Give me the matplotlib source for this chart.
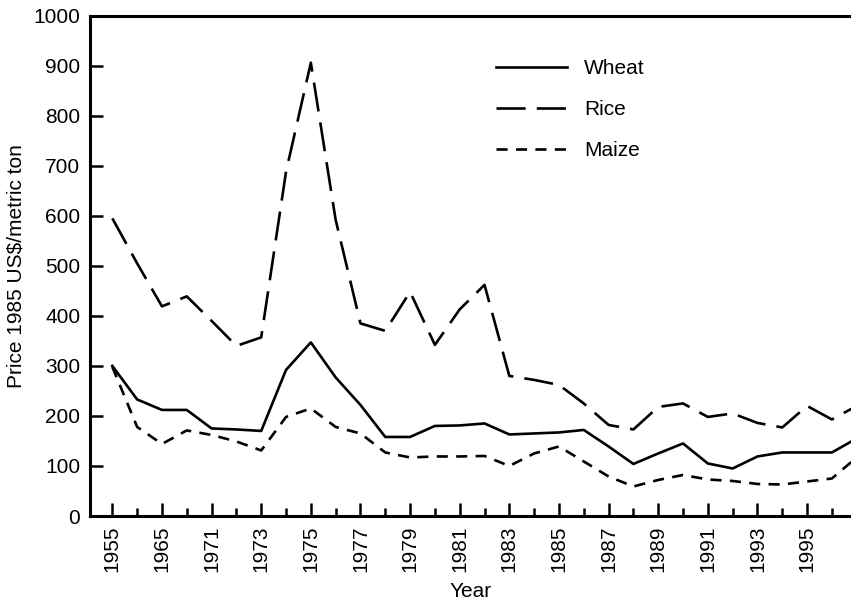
import matplotlib
matplotlib.use("Agg")
import matplotlib.pyplot as plt
from matplotlib.ticker import FixedLocator

plt.rcParams['font.family'] = ['Liberation Sans', 'DejaVu Sans']
plt.rcParams['lines.scale_dashes'] = False

years = ["1955", "1960", "1965", "1970", "1971", "1972", "1973", "1974", "1975",
         "1976", "1977", "1978", "1979", "1980", "1981", "1982", "1983", "1984",
         "1985", "1986", "1987", "1988", "1989", "1990", "1991", "1992", "1993",
         "1994", "1995", "1996", "1997"]
tick_labels = ["1955", "1965", "1971", "1973", "1975", "1977", "1979", "1981",
               "1983", "1985", "1987", "1989", "1991", "1993", "1995"]

wheat = [300, 233, 212, 212, 175, 173, 170, 292, 347, 277, 222, 158, 158, 180,
         181, 185, 163, 165, 167, 172, 139, 104, 125, 145, 105, 95, 119, 127,
         127, 127, 155]
rice = [595, 505, 419, 439, 390, 340, 357, 688, 906, 592, 385, 370, 448, 342,
        413, 462, 280, 272, 262, 225, 182, 173, 218, 225, 198, 205, 186, 177,
        220, 193, 220]
maize = [298, 178, 144, 171, 162, 149, 131, 198, 215, 178, 165, 127, 117, 119,
         119, 120, 100, 125, 139, 109, 79, 59, 72, 82, 73, 70, 64, 63, 69, 75,
         117]

fig = plt.figure(figsize=(8.51, 6.02), dpi=100)
ax = fig.add_axes([90/851, 1 - 516/602, 1 - 90/851, (516 - 15.7)/602])

x = list(range(len(years)))
lw = 1.9
ax.plot(x, wheat, color='black', lw=lw, linestyle='-', label='Wheat')
ax.plot(x, rice, color='black', lw=lw, linestyle=(0, (21, 8)), label='Rice')
ax.plot(x, maize, color='black', lw=lw, linestyle=(0, (8, 6)), label='Maize')

ax.set_xlim(-0.9, 29.77)
ax.set_ylim(0, 1000)

major = list(range(0, 30, 2))
minor = list(range(1, 30, 2))
ax.xaxis.set_major_locator(FixedLocator(major))
ax.xaxis.set_minor_locator(FixedLocator(minor))
ax.set_xticklabels(tick_labels, rotation=90, fontsize=15)
ax.set_yticks(range(0, 1001, 100))
ax.tick_params(axis='y', labelsize=15)

ax.tick_params(which='major', direction='in', length=9.5, width=1.8, pad=7)
ax.tick_params(which='minor', direction='in', length=6, width=1.8)
ax.tick_params(axis='y', pad=7)

for s in ['left', 'bottom', 'top']:
    ax.spines[s].set_linewidth(2.2)
ax.spines['right'].set_visible(False)

ax.set_xlabel('Year', fontsize=15, labelpad=7)
ax.set_ylabel('Price 1985 US$/metric ton', fontsize=15, labelpad=6)

leg = ax.legend(loc='upper left', bbox_to_anchor=(0.522, 0.93), frameon=False,
                fontsize=15, handlelength=3.45, handletextpad=0.8,
                labelspacing=1.05, borderaxespad=0)

fig.savefig('out.png', dpi=100)
